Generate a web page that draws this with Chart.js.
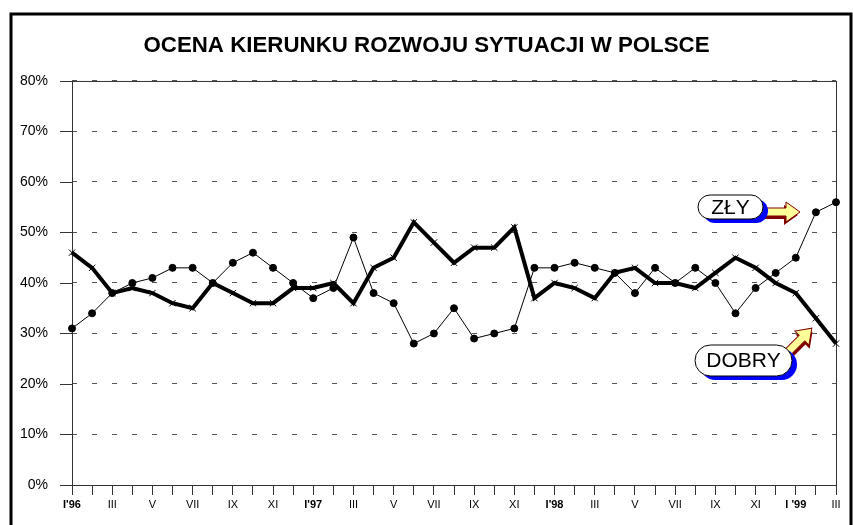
<!DOCTYPE html>
<html>
<head>
<meta charset="utf-8">
<script src="https://cdn.jsdelivr.net/npm/chart.js@4"></script>
<style>
html, body { margin: 0; padding: 0; background: #fff; }
</style>
</head>
<body>
<canvas id="ocenaChart" width="853" height="525"></canvas>
<script>
// Miesiące I'96 - III'99
const miesiace = ["I'96", "II", "III", "IV", "V", "VI", "VII", "VIII", "IX", "X", "XI", "XII",
    "I'97", "II", "III", "IV", "V", "VI", "VII", "VIII", "IX", "X", "XI", "XII",
    "I'98", "II", "III", "IV", "V", "VI", "VII", "VIII", "IX", "X", "XI", "XII",
    "I '99", "II", "III"];

// Odsetek ocen (w %)
const zly = [31, 34, 38, 40, 41, 43, 43, 40, 44, 46, 43, 40,
    37, 39, 49, 38, 36, 28, 30, 35, 29, 30, 31, 43,
    43, 44, 43, 42, 38, 43, 40, 43, 40, 34, 39, 42,
    45, 54, 56];
const dobry = [46, 43, 38, 39, 38, 36, 35, 40, 38, 36, 36, 39,
    39, 40, 36, 43, 45, 52, 48, 44, 47, 47, 51, 37,
    40, 39, 37, 42, 43, 40, 40, 39, 42, 45, 43, 40,
    38, 33, 28];

const FONT = '"Liberation Sans", Arial, sans-serif';

// ramka, znaczniki osi Y i obramowanie obszaru wykresu
const ramka = {
    id: 'ramka',
    beforeDatasetsDraw(chart) {
        const { ctx, chartArea: a, scales } = chart;
        ctx.save();
        ctx.strokeStyle = '#333';
        ctx.lineWidth = 1;
        ctx.strokeRect(a.left + 0.5, a.top + 0.5, a.right - a.left, a.bottom - a.top);
        ctx.beginPath();
        for (let v = 0; v <= 80; v += 10) {
            const y = Math.round(scales.y.getPixelForValue(v)) + 0.5;
            ctx.moveTo(a.left - 12, y);
            ctx.lineTo(a.left, y);
        }
        ctx.stroke();
        ctx.lineWidth = 3;
        ctx.strokeStyle = '#000';
        ctx.strokeRect(11, 14, 840, 520);
        ctx.restore();
    }
};

function pigulka(ctx, x, y, w, h, tekst) {
    ctx.fillStyle = '#0000ff';
    ctx.beginPath();
    ctx.roundRect(x + 5, y + 4, w, h, h / 2);
    ctx.fill();
    ctx.fillStyle = '#fff';
    ctx.strokeStyle = '#000';
    ctx.lineWidth = 1;
    ctx.beginPath();
    ctx.roundRect(x, y, w, h, h / 2);
    ctx.fill();
    ctx.stroke();
    ctx.fillStyle = '#000';
    ctx.font = '21px ' + FONT;
    ctx.textAlign = 'center';
    ctx.textBaseline = 'middle';
    ctx.fillText(tekst, x + w / 2, y + h / 2 + 1);
}

function strzalka(ctx, x, y, kat, dl) {
    const pts = [[0, -4], [dl - 14, -4], [dl - 14, -10], [dl, 0], [dl - 14, 10], [dl - 14, 4], [0, 4]];
    const sciezka = () => {
        ctx.beginPath();
        pts.forEach((p, i) => i ? ctx.lineTo(p[0], p[1]) : ctx.moveTo(p[0], p[1]));
        ctx.closePath();
    };
    ctx.save();
    ctx.translate(x, y);
    ctx.rotate(kat);
    ctx.save();
    ctx.translate(-2, 3);
    sciezka();
    ctx.fillStyle = '#800000';
    ctx.fill();
    ctx.restore();
    sciezka();
    ctx.fillStyle = '#ffff99';
    ctx.fill();
    ctx.strokeStyle = '#800000';
    ctx.lineWidth = 1;
    ctx.stroke();
    ctx.restore();
}

const etykiety = {
    id: 'etykiety',
    afterDraw(chart) {
        const ctx = chart.ctx;
        ctx.save();
        strzalka(ctx, 764, 212, 0, 36);
        pigulka(ctx, 698, 195, 65, 24, 'ZŁY');
        strzalka(ctx, 780, 360, -Math.PI / 4, 45);
        pigulka(ctx, 695, 345, 97, 31, 'DOBRY');
        ctx.restore();
    }
};

const ctx = document.getElementById('ocenaChart').getContext('2d');

new Chart(ctx, {
    type: 'line',
    data: {
        labels: miesiace,
        datasets: [{
            label: 'ZŁY',
            data: zly,
            borderColor: '#000',
            borderWidth: 1,
            pointStyle: 'circle',
            pointRadius: 3.5,
            pointBackgroundColor: '#000',
            pointBorderColor: '#000',
            tension: 0,
            clip: false
        }, {
            label: 'DOBRY',
            data: dobry,
            borderColor: '#000',
            borderWidth: 4,
            pointStyle: 'crossRot',
            pointRadius: 4.5,
            pointBorderWidth: 1,
            pointBorderColor: '#000',
            tension: 0,
            clip: false
        }]
    },
    options: {
        responsive: false,
        animation: false,
        devicePixelRatio: 1,
        layout: { padding: { left: 17, right: 17, top: 0, bottom: 0 } },
        plugins: {
            legend: { display: false },
            tooltip: { enabled: false },
            title: {
                display: true,
                text: 'OCENA KIERUNKU ROZWOJU SYTUACJI W POLSCE',
                color: '#000',
                font: { family: FONT, size: 22.3, weight: 'bold', lineHeight: 1.2 },
                padding: { top: 32, bottom: 22.2 }
            }
        },
        scales: {
            x: {
                offset: false,
                afterFit: (s) => { s.height = 40; },
                grid: {
                    drawOnChartArea: false,
                    drawTicks: true,
                    tickLength: 10,
                    color: '#333'
                },
                border: { display: false },
                ticks: {
                    autoSkip: false,
                    maxRotation: 0,
                    padding: 3,
                    color: '#000',
                    font: (c) => ({
                        family: FONT,
                        size: 11,
                        weight: (c.tick && String(c.tick.label).includes("'")) ? 'bold' : 'normal'
                    }),
                    callback: function (v, i) { return i % 2 === 0 ? miesiace[i] : ''; }
                }
            },
            y: {
                min: 0,
                max: 80,
                afterFit: (s) => { s.width = 55; },
                grid: {
                    drawTicks: false,
                    color: '#555',
                    lineWidth: 1
                },
                border: { display: false, dash: [5, 15] },
                ticks: {
                    stepSize: 10,
                    padding: 24,
                    color: '#000',
                    font: { family: FONT, size: 14 },
                    callback: (v) => v + '%'
                }
            }
        }
    },
    plugins: [ramka, etykiety]
});
</script>
</body>
</html>
